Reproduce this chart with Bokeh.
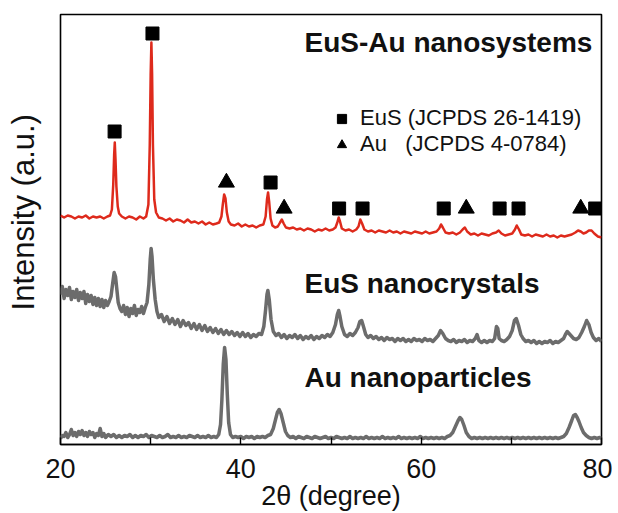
import numpy as np
from bokeh.plotting import figure
from bokeh.models import Range1d, FixedTicker, Label, Legend, LegendItem
from bokeh.embed import file_html
from bokeh.resources import INLINE

# ---------------- data ----------------
tick_values = [20, 40, 60, 80]
minor_tick_values = [30, 50, 70]

# EuS-Au nanosystems (red), intensity in arbitrary units (offset trace)
eus_au_2theta = [20.0, 20.4, 20.8, 21.2, 21.6, 22.0, 22.4, 22.8, 23.2, 23.6, 24.0, 24.4, 24.8, 25.2, 25.5,
                 25.7, 25.85, 25.95, 26.02, 26.1, 26.2, 26.35, 26.5, 26.8, 27.2, 27.6, 28.0, 28.4, 28.8, 29.2,
                 29.5, 29.75, 29.9, 30.0, 30.08, 30.16, 30.25, 30.4, 30.6, 30.9, 31.3, 31.7, 32.1, 32.5, 32.9,
                 33.3, 33.7, 34.1, 34.5, 34.9, 35.3, 35.7, 36.1, 36.5, 36.9, 37.3, 37.6, 37.85, 38.0, 38.15,
                 38.3, 38.45, 38.65, 38.9, 39.3, 39.7, 40.1, 40.5, 40.9, 41.3, 41.7, 42.1, 42.5, 42.75, 42.9,
                 43.02, 43.15, 43.3, 43.5, 43.8, 44.1, 44.35, 44.55, 44.75, 45.0, 45.4, 45.8, 46.2, 46.6, 47.0,
                 47.4, 47.8, 48.2, 48.6, 49.0, 49.4, 49.8, 50.2, 50.5, 50.7, 50.85, 51.0, 51.2, 51.6, 52.0,
                 52.4, 52.8, 53.05, 53.25, 53.45, 53.7, 54.1, 54.5, 54.9, 55.3, 55.7, 56.1, 56.5, 56.9, 57.3,
                 57.7, 58.1, 58.5, 58.9, 59.3, 59.7, 60.1, 60.5, 60.9, 61.3, 61.7, 62.0, 62.2, 62.4, 62.7,
                 63.1, 63.5, 63.9, 64.3, 64.6, 64.85, 65.1, 65.5, 65.9, 66.3, 66.7, 67.1, 67.5, 67.9, 68.3,
                 68.6, 68.9, 69.3, 69.7, 70.1, 70.4, 70.6, 70.85, 71.1, 71.5, 71.9, 72.3, 72.7, 73.1, 73.5,
                 73.9, 74.3, 74.7, 75.1, 75.5, 75.9, 76.3, 76.7, 77.1, 77.4, 77.7, 78.0, 78.3, 78.6, 78.9,
                 79.2, 79.6, 80.0]
eus_au_intensity = [229, 227, 229, 228, 226, 228, 227, 229, 226, 228, 227, 228, 226, 228, 229,
                    235, 260, 290, 302, 285, 258, 238, 231, 228, 226, 228, 227, 225, 228, 226,
                    228, 240, 300, 370, 402, 370, 300, 245, 232, 227, 226, 224, 226, 223, 225,
                    224, 222, 225, 222, 223, 221, 223, 220, 222, 220, 221, 222, 228, 240, 250,
                    246, 232, 223, 220, 219, 221, 218, 220, 218, 219, 217, 219, 220, 228, 245,
                    252, 242, 226, 219, 217, 218, 222, 225, 221, 217, 216, 217, 215, 216, 214,
                    216, 215, 213, 215, 214, 216, 214, 215, 217, 222, 227, 223, 216, 214, 215,
                    213, 215, 218, 225, 221, 215, 213, 214, 212, 214, 213, 212, 214, 212, 213,
                    211, 213, 212, 211, 213, 212, 211, 213, 211, 212, 213, 216, 220, 217, 212,
                    211, 212, 210, 212, 215, 217, 213, 210, 211, 209, 211, 210, 209, 211, 212,
                    214, 211, 209, 210, 211, 215, 219, 215, 210, 209, 210, 208, 210, 209, 208,
                    210, 208, 209, 207, 209, 208, 209, 210, 212, 214, 213, 211, 212, 214, 214,
                    211, 208, 207]

# EuS nanocrystals (grey)
eus_2theta = [20.0, 20.2, 20.4, 20.6, 20.8, 21.0, 21.2, 21.4, 21.6, 21.8, 22.0, 22.2, 22.4, 22.6, 22.8,
              23.0, 23.2, 23.4, 23.6, 23.8, 24.0, 24.2, 24.4, 24.6, 24.8, 25.0, 25.2, 25.4, 25.6, 25.8,
              25.95, 26.1, 26.25, 26.4, 26.6, 26.8, 27.0, 27.2, 27.4, 27.6, 27.8, 28.0, 28.2, 28.4, 28.6,
              28.8, 29.0, 29.2, 29.4, 29.6, 29.8, 29.95, 30.05, 30.15, 30.3, 30.5, 30.7, 30.9, 31.2, 31.5,
              31.8, 32.1, 32.4, 32.7, 33.0, 33.3, 33.6, 33.9, 34.2, 34.5, 34.8, 35.1, 35.4, 35.7, 36.0,
              36.3, 36.6, 36.9, 37.2, 37.5, 37.8, 38.1, 38.4, 38.7, 39.0, 39.3, 39.6, 39.9, 40.2, 40.5,
              40.8, 41.1, 41.4, 41.7, 42.0, 42.3, 42.55, 42.75, 42.9, 43.0, 43.15, 43.35, 43.6, 43.9, 44.2,
              44.5, 44.8, 45.1, 45.4, 45.7, 46.0, 46.3, 46.6, 46.9, 47.2, 47.5, 47.8, 48.1, 48.4, 48.7,
              49.0, 49.3, 49.6, 49.9, 50.2, 50.5, 50.7, 50.85, 51.0, 51.2, 51.5, 51.8, 52.1, 52.4, 52.7,
              53.0, 53.2, 53.4, 53.6, 53.85, 54.1, 54.4, 54.7, 55.0, 55.3, 55.6, 55.9, 56.2, 56.5, 56.8,
              57.1, 57.4, 57.7, 58.0, 58.3, 58.6, 58.9, 59.2, 59.5, 59.8, 60.1, 60.4, 60.7, 61.0, 61.3,
              61.6, 61.9, 62.15, 62.4, 62.7, 63.0, 63.3, 63.6, 63.9, 64.2, 64.5, 64.8, 65.1, 65.4, 65.7,
              66.0, 66.2, 66.4, 66.7, 67.0, 67.3, 67.6, 67.9, 68.15, 68.35, 68.5, 68.65, 68.9, 69.2, 69.5,
              69.8, 70.1, 70.35, 70.55, 70.8, 71.05, 71.3, 71.6, 71.9, 72.2, 72.5, 72.8, 73.1, 73.4, 73.7,
              74.0, 74.3, 74.6, 74.9, 75.2, 75.5, 75.8, 76.0, 76.2, 76.4, 76.6, 76.9, 77.2, 77.5, 77.8,
              78.1, 78.35, 78.6, 78.85, 79.1, 79.4, 79.7, 80.0]
eus_intensity = [150, 158, 146, 155, 149, 157, 145, 153, 147, 155, 144, 152, 146, 153, 141,
                 150, 143, 149, 140, 147, 139, 146, 138, 145, 137, 144, 139, 143, 148, 162,
                 172, 168, 155, 142, 136, 133, 139, 130, 137, 128, 136, 131, 139, 129, 135,
                 132, 138, 131, 137, 142, 160, 185, 196, 188, 165, 145, 133, 127, 130, 123,
                 128, 121, 126, 120, 125, 118, 124, 119, 122, 116, 121, 115, 120, 114, 119,
                 113, 117, 112, 116, 111, 115, 110, 114, 110, 113, 109, 112, 108, 112, 108,
                 111, 107, 110, 108, 111, 110, 118, 135, 150, 154, 145, 125, 113, 109, 111,
                 107, 110, 106, 109, 107, 110, 106, 109, 105, 108, 106, 109, 105, 108, 106,
                 109, 107, 110, 108, 112, 120, 130, 134, 128, 118, 110, 108, 111, 109, 112,
                 117, 123, 124, 118, 110, 107, 109, 106, 108, 105, 107, 104, 107, 105, 106,
                 103, 106, 104, 106, 103, 105, 103, 106, 104, 105, 103, 106, 104, 105, 103,
                 106, 109, 114, 111, 106, 104, 103, 105, 102, 104, 103, 105, 102, 104, 103,
                 106, 110, 104, 102, 104, 102, 104, 103, 106, 118, 116, 106, 104, 103, 105,
                 108, 114, 124, 126, 119, 110, 106, 103, 104, 102, 104, 101, 103, 101, 103,
                 102, 104, 101, 103, 102, 104, 106, 110, 113, 111, 109, 106, 105, 107, 112,
                 118, 124, 120, 112, 107, 104, 106, 103]

# Au nanoparticles (grey)
au_2theta = [20.0, 20.2, 20.4, 20.6, 20.8, 21.0, 21.2, 21.4, 21.6, 21.8, 22.0, 22.2, 22.4, 22.6, 22.8,
             23.0, 23.2, 23.4, 23.6, 23.8, 24.0, 24.2, 24.4, 24.6, 24.8, 25.0, 25.3, 25.6, 25.9, 26.2,
             26.5, 26.8, 27.1, 27.4, 27.7, 28.0, 28.3, 28.6, 28.9, 29.2, 29.5, 29.8, 30.1, 30.4, 30.7,
             31.0, 31.3, 31.6, 31.9, 32.2, 32.5, 32.8, 33.1, 33.4, 33.7, 34.0, 34.3, 34.6, 34.9, 35.2,
             35.5, 35.8, 36.1, 36.4, 36.7, 37.0, 37.3, 37.55, 37.75, 37.9, 38.05, 38.2, 38.35, 38.5, 38.65,
             38.85, 39.1, 39.4, 39.7, 40.0, 40.3, 40.6, 40.9, 41.2, 41.5, 41.8, 42.1, 42.4, 42.7, 43.0,
             43.3, 43.6, 43.85, 44.05, 44.25, 44.45, 44.7, 44.95, 45.2, 45.5, 45.8, 46.1, 46.4, 46.7, 47.0,
             47.3, 47.6, 47.9, 48.2, 48.5, 48.8, 49.1, 49.4, 49.7, 50.0, 50.3, 50.6, 50.9, 51.2, 51.5,
             51.8, 52.1, 52.4, 52.7, 53.0, 53.3, 53.6, 53.9, 54.2, 54.5, 54.8, 55.1, 55.4, 55.7, 56.0,
             56.3, 56.6, 56.9, 57.2, 57.5, 57.8, 58.1, 58.4, 58.7, 59.0, 59.3, 59.6, 59.9, 60.2, 60.5,
             60.8, 61.1, 61.4, 61.7, 62.0, 62.3, 62.6, 62.9, 63.2, 63.5, 63.8, 64.1, 64.3, 64.5, 64.75,
             65.0, 65.3, 65.6, 65.9, 66.2, 66.5, 66.8, 67.1, 67.4, 67.7, 68.0, 68.3, 68.6, 68.9, 69.2,
             69.5, 69.8, 70.1, 70.4, 70.7, 71.0, 71.3, 71.6, 71.9, 72.2, 72.5, 72.8, 73.1, 73.4, 73.7,
             74.0, 74.3, 74.6, 74.9, 75.2, 75.5, 75.8, 76.1, 76.4, 76.7, 76.9, 77.1, 77.3, 77.5, 77.75,
             78.0, 78.3, 78.6, 78.9, 79.2, 79.5, 79.8, 80.0]
au_intensity = [6, 9, 8, 12, 7, 10, 15, 9, 12, 8, 13, 10, 14, 9, 12,
                8, 13, 10, 12, 7, 11, 9, 16, 8, 11, 7, 10, 8, 10, 7,
                9, 7, 9, 8, 10, 7, 9, 7, 9, 8, 10, 7, 9, 8, 7,
                9, 7, 8, 10, 7, 8, 7, 9, 7, 8, 7, 9, 8, 7, 9,
                7, 8, 7, 9, 7, 8, 7, 10, 20, 45, 80, 97, 85, 50, 22,
                10, 7, 8, 7, 8, 6, 8, 7, 8, 6, 8, 7, 8, 7, 9,
                10, 16, 25, 32, 35, 31, 22, 13, 9, 7, 8, 6, 8, 7, 6,
                8, 7, 6, 8, 7, 6, 7, 8, 6, 7, 6, 8, 7, 6, 7,
                6, 8, 6, 7, 6, 7, 6, 8, 6, 7, 6, 7, 6, 8, 6,
                7, 6, 7, 6, 8, 6, 7, 6, 7, 6, 7, 6, 8, 6, 7,
                6, 7, 6, 7, 6, 7, 6, 8, 9, 12, 18, 24, 27, 25, 19,
                12, 8, 6, 7, 6, 7, 6, 7, 6, 7, 6, 7, 6, 7, 6,
                7, 6, 7, 6, 7, 6, 7, 6, 7, 6, 7, 6, 7, 6, 7,
                6, 7, 6, 7, 6, 7, 8, 11, 17, 24, 29, 30, 27, 23, 17,
                12, 9, 7, 6, 7, 6, 7, 6]

# reflection markers on the EuS-Au pattern
eus_peak_2theta = [26.0, 30.2, 43.3, 50.9, 53.5, 62.5, 68.7, 70.8, 79.3]
eus_peak_mark = [313, 411, 262, 236, 236, 236, 236, 236, 236]
au_peak_2theta = [38.4, 44.8, 65.0, 77.7]
au_peak_mark = [262, 236, 236, 236]

# ---------------- layout helpers (page pixels -> data) ----------------
X0, X1, Y0 = 60.0, 601.0, 444.0
def fx(px):
    return 20 + (px - X0) * 60.0 / (X1 - X0)
def fy(py):
    return Y0 - py

FONT = "Liberation Sans"
RED = "#de2a1c"
GREY = "#6c6c6c"
TXT = "#111111"

W, H = 612, 513
p = figure(width=W, height=H, x_range=Range1d(20, 80), y_range=Range1d(0, 430),
           output_backend="svg", toolbar_location=None,
           min_border_left=60, min_border_right=W - 601, min_border_top=14, min_border_bottom=H - 444)
p.background_fill_color = "white"
p.border_fill_color = "white"
p.outline_line_color = "black"
p.outline_line_width = 1.6
p.outline_line_alpha = 1.0
p.grid.visible = False

xa = p.xaxis[0]
xa.ticker = FixedTicker(ticks=tick_values, minor_ticks=minor_tick_values)
xa.axis_line_color = "black"
xa.axis_line_width = 1.6
xa.major_tick_in = 7
xa.major_tick_out = 0
xa.minor_tick_in = 7
xa.minor_tick_out = 0
xa.major_tick_line_color = "black"
xa.minor_tick_line_color = "black"
xa.major_tick_line_width = 1.4
xa.minor_tick_line_width = 1.4
xa.major_label_text_font = FONT
xa.major_label_text_font_size = "27px"
xa.major_label_text_color = TXT
xa.major_label_text_line_height = 1.0
xa.major_label_standoff = 14
xa.axis_label = "2\u03b8 (degree)"
xa.axis_label_text_font = FONT
xa.axis_label_text_font_size = "27px"
xa.axis_label_text_font_style = "normal"
xa.axis_label_text_color = TXT
xa.axis_label_text_line_height = 1.0
xa.axis_label_standoff = 0

ya = p.yaxis[0]
ya.ticker = FixedTicker(ticks=[])
ya.axis_line_color = None
ya.major_tick_in = 0
ya.major_tick_out = 0
ya.minor_tick_in = 0
ya.minor_tick_out = 0
ya.major_label_text_font_size = "0px"
ya.axis_label = "\u00a0\u00a0\u00a0\u00a0Intensity (a.u.)"
ya.axis_label_text_font = FONT
ya.axis_label_text_font_size = "31px"
ya.axis_label_text_font_style = "normal"
ya.axis_label_text_color = TXT
ya.axis_label_standoff = 20

# traces
p.line(au_2theta, au_intensity, line_color=GREY, line_width=3.5, line_join="round")
p.line(eus_2theta, eus_intensity, line_color=GREY, line_width=3.5, line_join="round")
p.line(eus_au_2theta, eus_au_intensity, line_color=RED, line_width=2.5, line_join="round")

sq = p.scatter(eus_peak_2theta, eus_peak_mark, marker="square", size=13, color="black")
tr = p.scatter(au_peak_2theta, au_peak_mark, marker="triangle", size=16, color="black")

legend = Legend(items=[LegendItem(label="EuS (JCPDS 26-1419)", renderers=[sq]),
                       LegendItem(label="Au\u00a0\u00a0\u00a0(JCPDS 4-0784)", renderers=[tr])],
                location=(270, 287), padding=0, margin=0, spacing=0,
                glyph_width=23, glyph_height=23, label_standoff=7,
                label_text_font=FONT, label_text_font_size="22px", label_text_color=TXT,
                background_fill_alpha=0, border_line_alpha=0)
p.add_layout(legend, "center")

def lab(text, px, py, size, style="normal"):
    p.add_layout(Label(x=fx(px), y=fy(py), text=text, text_font=FONT, text_font_size=size,
                       text_font_style=style, text_align="left", text_baseline="middle",
                       text_color=TXT))

lab("EuS-Au nanosystems", 304, 42, "28px", "bold")
lab("EuS nanocrystals", 304, 283, "28px", "bold")
lab("Au nanoparticles", 304, 377, "28px", "bold")

open("out.html", "w").write(file_html(p, INLINE))
